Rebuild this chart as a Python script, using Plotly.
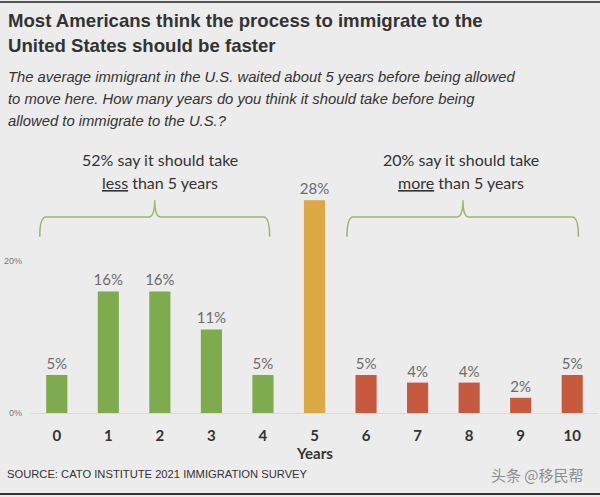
import plotly.graph_objects as go

years = [0, 1, 2, 3, 4, 5, 6, 7, 8, 9, 10]
pct = [5, 16, 16, 11, 5, 28, 5, 4, 4, 2, 5]
groups = ["less", "less", "less", "less", "less", "same", "more", "more", "more", "more", "more"]
group_colors = {"less": "#7eab4e", "same": "#dba843", "more": "#c75a3e"}
ytick_vals = [0, 20]
ytick_text = ["0%", "20%"]

title_lines = ["Most Americans think the process to immigrate to the",
               "United States should be faster"]
subtitle_lines = ["The average immigrant in the U.S. waited about 5 years before being allowed",
                  "to move here. How many years do you think it should take before being",
                  "allowed to immigrate to the U.S.?"]
less_text = ["52% say it should take", "<u>less</u> than 5 years"]
more_text = ["20% say it should take", "<u>more</u> than 5 years"]
source_text = "SOURCE: CATO INSTITUTE 2021 IMMIGRATION SURVEY"
watermark = "头条 @移民帮"

W, H = 600, 497
L, R, T, B = 31, 2, 185, 84
PW, PH = W - L - R, H - T - B


def px(x):
    return (x - L) / PW


def py(y):
    return (H - B - y) / PH


fig = go.Figure()
fig.add_trace(go.Bar(
    x=years, y=pct,
    marker=dict(color=[group_colors[g] for g in groups], line=dict(width=0)),
    text=[f"{v}%" for v in pct], textposition="outside", constraintext="none",
    outsidetextfont=dict(family="Lato, Carlito, sans-serif", size=15, color="#6b6b6b"),
    cliponaxis=False, width=0.41,
))

sans = "Liberation Sans, Arial, sans-serif"
ann = []
for i, t in enumerate(title_lines):
    ann.append(dict(text=t, x=px(6), y=py(20 + 25 * i), xref="paper", yref="paper", xanchor="left",
                    yanchor="middle", align="left", showarrow=False,
                    font=dict(family=sans, size=18.6, color="#333333", weight="bold")))
for i, t in enumerate(subtitle_lines):
    ann.append(dict(text="<i>" + t + "</i>", x=px(6), y=py(77 + 22 * i), xref="paper", yref="paper",
                    xanchor="left", yanchor="middle", align="left", showarrow=False,
                    font=dict(family=sans, size=14.8, color="#333333")))
calib = "Lato, Carlito, sans-serif"
for cx, lines in ((160, less_text), (461, more_text)):
    for i, t in enumerate(lines):
        ann.append(dict(text=t, x=px(cx), y=py(159 + 23 * i), xref="paper", yref="paper",
                        xanchor="center", yanchor="middle", showarrow=False,
                        font=dict(family=calib, size=16, color="#333333")))
ann.append(dict(text="<b>Years</b>", x=px(314), y=py(453), xref="paper", yref="paper", xanchor="center",
                yanchor="middle", showarrow=False, font=dict(family=calib, size=15, color="#333333")))
ann.append(dict(text=source_text, x=px(5), y=py(474), xref="paper", yref="paper", xanchor="left",
                yanchor="middle", showarrow=False, font=dict(family=sans, size=11.2, color="#333333")))
ann.append(dict(text=watermark, x=px(586), y=py(474), xref="paper", yref="paper", xanchor="right",
                yanchor="middle", showarrow=False, font=dict(family="Noto Sans CJK SC", size=15, color="#8c8c8c")))


def brace(x0, x1, c, yb, yh, yt, r=0.12):
    return (f"M {x0},{yb} Q {x0},{yh} {x0 + r},{yh} L {c - r},{yh} Q {c},{yh} {c},{yt} "
            f"Q {c},{yh} {c + r},{yh} L {x1 - r},{yh} Q {x1},{yh} {x1},{yb}")


shapes = [
    dict(type="path", xref="x", yref="y", path=brace(-0.33, 4.13, 1.9, 23.2, 25.8, 28.0),
         line=dict(color="#9ab86a", width=1.5)),
    dict(type="path", xref="x", yref="y", path=brace(5.63, 10.12, 7.88, 23.2, 25.8, 28.0),
         line=dict(color="#9ab86a", width=1.5)),
    dict(type="line", xref="paper", yref="paper", x0=px(0), x1=px(600), y0=py(2), y1=py(2),
         line=dict(color="#555555", width=2)),
    dict(type="line", xref="paper", yref="paper", x0=px(0), x1=px(600), y0=py(494), y1=py(494),
         line=dict(color="#333333", width=2)),
]

fig.update_layout(
    width=W, height=H, margin=dict(l=L, r=R, t=T, b=B),
    paper_bgcolor="#ececec", plot_bgcolor="#ececec",
    showlegend=False, annotations=ann, shapes=shapes,
    xaxis=dict(range=[-0.5, 10.5], tickvals=years, ticktext=[str(y) for y in years],
               tickfont=dict(family=calib, size=15, color="#333333", weight="bold"),
               showgrid=False, zeroline=False, showline=True, linecolor="#d9d9d9", linewidth=1,
               ticks="", ticklabelstandoff=9, fixedrange=True),
    yaxis=dict(range=[0, 30], tickvals=ytick_vals, ticktext=ytick_text,
               tickfont=dict(family="Liberation Sans, Arial, sans-serif", size=9, color="#777777"),
               showgrid=False, zeroline=False, showline=False, ticks="", ticklabelstandoff=8,
               fixedrange=True),
)

fig.write_html("out.html")
